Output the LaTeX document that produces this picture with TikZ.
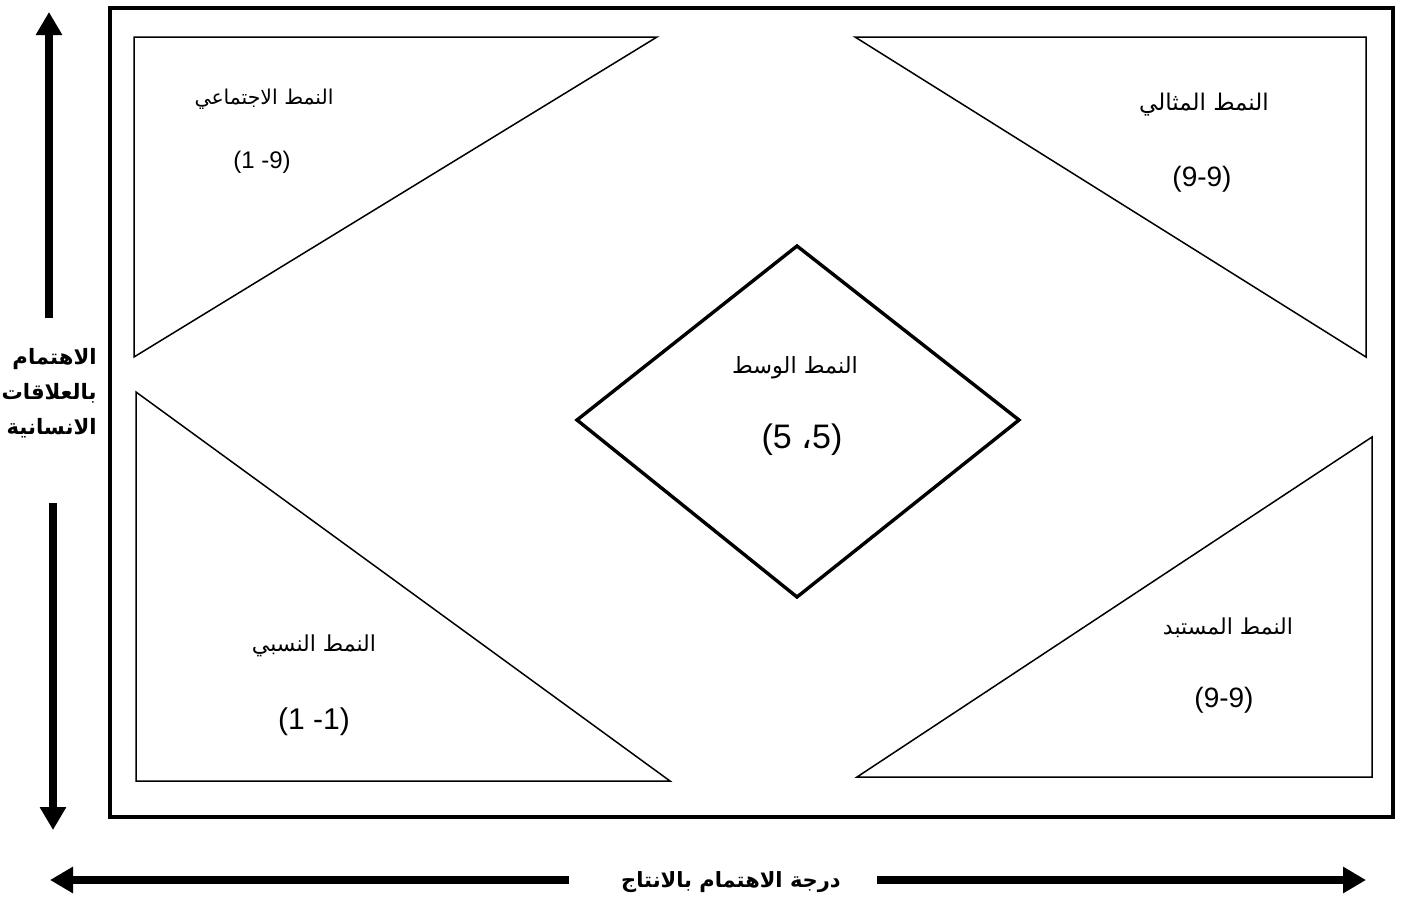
\documentclass[tikz,border=0pt]{standalone}
\usepackage{fontspec}
\setmainfont{Liberation Sans}
\newfontfamily\arabicfont[Script=Arabic]{DejaVu Sans}
\TeXXeTstate=1
\usetikzlibrary{arrows.meta}
\tikzset{
  tri/.style={draw, line width=0.75pt, line join=miter},
  frame/.style={draw, line width=2.2pt},
  diam/.style={draw, line width=1.7pt, line join=miter},
  axis/.style={line width=4pt, -{Triangle[length=11.5pt,width=12.5pt]}},
  axshadow/.style={axis, draw=black!12, shift={(2.5,3)}},
  lbl/.style={font=\arabicfont\fontsize{11.2}{14}\selectfont, inner sep=0pt},
  num/.style={font=\fontsize{13}{15}\selectfont, inner sep=0pt},
  axlbl/.style={font=\arabicfont\bfseries\fontsize{10.6}{17.5}\selectfont, align=right, inner sep=0pt},
}
\begin{document}
\begin{tikzpicture}[x=0.5pt,y=-0.5pt]
\useasboundingbox (0,0) rectangle (1403,900);
% frame
\draw[frame] (110,8) rectangle (1393,817);
% triangles
\draw[tri] (134,37) -- (657,37) -- (134,357) -- cycle;
\draw[tri] (855,37) -- (1366,37) -- (1366,357) -- cycle;
\draw[tri] (136,392) -- (136,781) -- (670,781) -- cycle;
\draw[tri] (1372,437) -- (1372,777) -- (857,777) -- cycle;
% diamond
\draw[diam] (797,246) -- (1019,420) -- (797,597) -- (577,420) -- cycle;
% labels
\node[lbl, font=\arabicfont\fontsize{10.2}{12}\selectfont] (tl) at (264,99) {\beginR النمط الاجتماعي\endR};
\node[num,font=\fontsize{12}{14}\selectfont] (tln) at (262,162) {(1 -9)};
\node[lbl, font=\arabicfont\fontsize{11.5}{14}\selectfont] (tr) at (1204,105) {\beginR النمط المثالي\endR};
\node[num,font=\fontsize{14}{16}\selectfont] (trn) at (1202,179) {(9-9)};
\node[lbl] (c) at (795,368) {\beginR النمط الوسط\endR};
\node[num,font=\fontsize{17}{19}\selectfont] (cn) at (802,440) {(5 {\arabicfont ،}5)};
\node[lbl, font=\arabicfont\fontsize{11}{14}\selectfont] (bl) at (314,646) {\beginR النمط النسبي\endR};
\node[num,font=\fontsize{15}{17}\selectfont] (bln) at (314,722) {(1 -1)};
\node[lbl, font=\arabicfont\fontsize{11}{14}\selectfont] (br) at (1228,628) {\beginR النمط المستبد\endR};
\node[num,font=\fontsize{14}{16}\selectfont] (brn) at (1224,700) {(9-9)};
% axis labels
\node[axlbl, anchor=east] (yl) at (97,393) {\beginR الاهتمام\endR\\\beginR بالعلاقات\endR\\\beginR الانسانية\endR};
\node[axlbl, font=\arabicfont\bfseries\fontsize{10.5}{13}\selectfont] (xl) at (731,882) {\beginR درجة الاهتمام بالانتاج\endR};
% arrows
\coordinate (ua) at (49,318);
\coordinate (ub) at (49,12);
\coordinate (da) at (53,503);
\coordinate (db) at (53,830);
\coordinate (la) at (569,880);
\coordinate (lb) at (50,880);
\coordinate (ra) at (877,880);
\coordinate (rb) at (1366,880);
\draw[axshadow] (ua) -- (ub);
\draw[axshadow] (da) -- (db);
\draw[axshadow] (la) -- (lb);
\draw[axshadow] (ra) -- (rb);
\draw[axis] (ua) -- (ub);
\draw[axis] (da) -- (db);
\draw[axis] (la) -- (lb);
\draw[axis] (ra) -- (rb);
\end{tikzpicture}
\end{document}
